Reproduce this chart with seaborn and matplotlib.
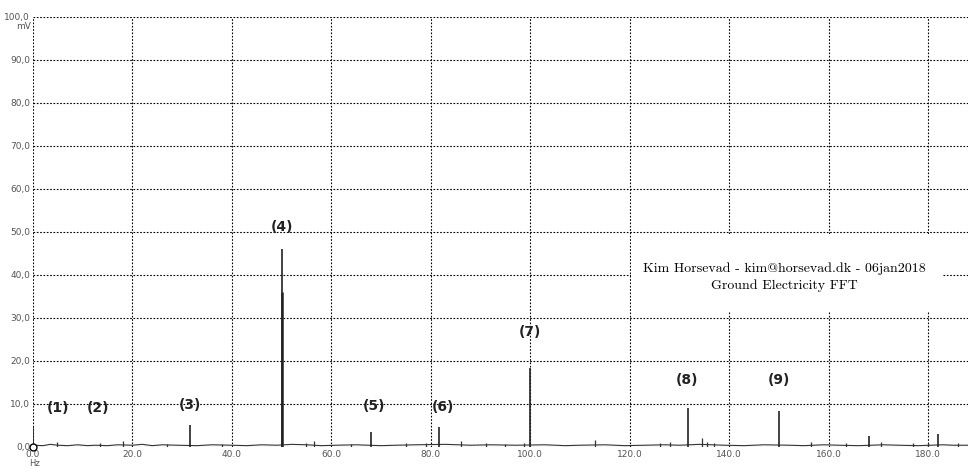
import matplotlib
matplotlib.use("Agg")
import matplotlib.pyplot as plt
from matplotlib.patches import Rectangle
import seaborn as sns
import pandas as pd

# main spectral peaks (Hz, mV)
peak_hz = [0.1, 31.6, 50.0, 68.0, 81.7, 100.0, 131.8, 150.0, 168.0, 182.0]
peak_mv = [4.6, 5.0, 46.0, 3.5, 4.6, 18.3, 9.0, 8.3, 2.5, 3.0]

# small bumps in the noise floor
bump_hz = [4.8, 13.5, 18.2, 27.0, 38.0, 55.0, 56.5, 64.0, 75.0, 79.0, 86.0, 91.0,
           95.0, 98.8, 113.0, 126.0, 128.0, 134.5, 135.5, 137.0, 156.5, 163.5,
           170.5, 177.0, 180.0, 186.0]
bump_mv = [1.2, 1.0, 1.3, 0.6, 0.6, 0.9, 1.4, 0.6, 0.9, 1.0, 1.3, 1.0,
           0.7, 0.9, 1.6, 0.8, 1.2, 2.0, 1.2, 0.8, 1.1, 1.0,
           1.2, 0.8, 0.9, 0.8]

# noise floor trace
floor_hz = [0, 2, 3.5, 5, 7, 9, 11, 12.5, 15, 17, 20, 22, 24, 26, 29, 33, 36, 40,
            43, 46, 49, 52, 55, 58, 61, 65, 70, 73, 77, 83, 88, 92, 97, 103, 107,
            110, 115, 119, 123, 127, 130, 134, 139, 143, 147, 152, 155, 159, 162,
            166, 171, 174, 178, 183, 185, 188]
floor_mv = [0.4, 0.3, 0.6, 0.4, 0.3, 0.5, 0.3, 0.4, 0.3, 0.5, 0.4, 0.6, 0.3, 0.5,
            0.4, 0.3, 0.5, 0.4, 0.3, 0.5, 0.4, 0.6, 0.5, 0.3, 0.4, 0.5, 0.3, 0.4,
            0.5, 0.6, 0.4, 0.5, 0.4, 0.5, 0.3, 0.4, 0.5, 0.3, 0.4, 0.5, 0.4, 0.6,
            0.4, 0.3, 0.5, 0.4, 0.3, 0.5, 0.4, 0.3, 0.5, 0.4, 0.3, 0.5, 0.4, 0.4]

label_txt = ["(1)", "(2)", "(3)", "(4)", "(5)", "(6)", "(7)", "(8)", "(9)"]
label_hz = [5.0, 13.0, 31.6, 50.0, 68.5, 82.5, 100.0, 131.5, 150.0]
label_mv = [7.5, 7.5, 8.2, 49.5, 7.8, 7.6, 25.0, 14.0, 14.0]

x_ticks = [0, 20, 40, 60, 80, 100, 120, 140, 160, 180]
y_ticks = [0, 10, 20, 30, 40, 50, 60, 70, 80, 90, 100]

sns.set_style("white")

fig = plt.figure(figsize=(9.68, 4.68), dpi=100)
ax = fig.add_axes([0.034, 0.045, 0.966, 0.919])

floor = pd.DataFrame({"hz": floor_hz, "mv": floor_mv})
sns.lineplot(data=floor, x="hz", y="mv", ax=ax, color="#333333", linewidth=0.8)

ax.vlines(bump_hz, 0, bump_mv, color="#333333", linewidth=0.9)
ax.vlines(peak_hz, 0, peak_mv, color="#222222", linewidth=1.2)
# thicker lower part of the 50 Hz line
ax.vlines([50.0], 0, [36.0], color="#222222", linewidth=1.8)
ax.plot([0], [0], marker="o", markersize=5, markerfacecolor="white",
        markeredgecolor="black", markeredgewidth=1, clip_on=False, zorder=5)

for t, x, y in zip(label_txt, label_hz, label_mv):
    ax.text(x, y, t, ha="center", va="bottom", fontsize=10, color="#222222",
            fontweight="semibold")

# white block behind the caption hides the grid there
ax.add_patch(Rectangle((120.3, 31.3), 62.6, 18.3, facecolor="white",
                       edgecolor="none", zorder=4))
ax.text(151, 39.5, "Kim Horsevad - kim@horsevad.dk - 06jan2018\nGround Electricity FFT",
        ha="center", va="center", fontsize=10, linespacing=1.5,
        family=["cmr10", "DejaVu Serif"], color="black", zorder=6)

ax.set_xlim(0, 188)
ax.set_ylim(0, 100)
ax.set_xticks(x_ticks)
ax.set_yticks(y_ticks)
ax.set_xticklabels([f"{v:.1f}" for v in x_ticks])
ax.set_yticklabels([f"{v:.1f}".replace(".", ",") for v in y_ticks])
ax.tick_params(axis="both", labelsize=6.5, labelcolor="#555555", length=0, pad=2)
ax.set_xlabel("")
ax.set_ylabel("")
ax.grid(True, color="black", linestyle=(0, (1.5, 1.5)), linewidth=0.8)
for s in ax.spines.values():
    s.set_visible(False)

fig.text(0.032, 0.943, "mV", ha="right", va="center", fontsize=6.5, color="#555555")
fig.text(0.036, 0.001, "Hz", ha="center", va="bottom", fontsize=6, color="#555555")

fig.savefig("out.png", dpi=100)
